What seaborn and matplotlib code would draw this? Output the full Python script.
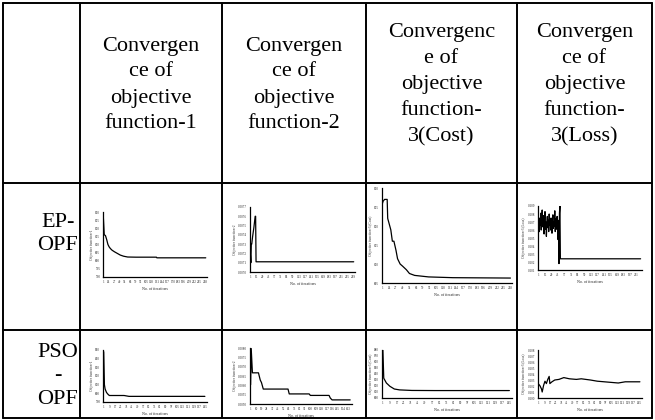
import matplotlib
matplotlib.use("Agg")
import matplotlib.pyplot as plt
import pandas as pd
import seaborn as sns

W, H = 655, 420

HEADERS = [
    "Convergen\nce of\nobjective\nfunction-1",
    "Convergen\nce of\nobjective\nfunction-2",
    "Convergenc\ne of\nobjective\nfunction-\n3(Cost)",
    "Convergen\nce of\nobjective\nfunction-\n3(Loss)",
]
ROW_LABELS = ["EP-\nOPF", "PSO\n-\nOPF"]
YLABELS = [
    "Objective function-1",
    "Objective function-2",
    "Objective function-3 (Cost)",
    "Objective function-3 (Loss)",
]
XLABEL = "No. of iterations"

# EP-OPF convergence curves (iteration, value)
EP1_ITER = [1, 2, 3, 6, 9, 12, 15, 18, 22, 28, 35, 42, 50, 60, 80, 130, 131, 250]
EP1_VAL = [826, 821, 816, 815.5, 813, 810, 808.5, 807.5, 806.5, 805.5, 804.5,
           803.5, 802.8, 802.3, 802.2, 802.2, 801.8, 801.8]

EP2_ITER = [1, 2, 3, 4, 6, 9, 12, 13, 14, 240]
EP2_VAL = [0.00718, 0.00710, 0.00730, 0.00730, 0.00738, 0.00748, 0.00760,
           0.00760, 0.00711, 0.00711]

EP3_ITER = [1, 2, 5, 10, 11, 13, 17, 20, 23, 27, 30, 35, 40, 47, 53, 63, 90,
            137, 248]
EP3_VAL = [826, 826.5, 827, 827, 822, 821, 819, 816, 816, 813.6, 811.4, 810,
           809.4, 808.5, 807.5, 807, 806.6, 806.4, 806.3]

EP4_VAL_NOISY = [0.1062, 0.1070, 0.1058, 0.1075, 0.1066, 0.1081, 0.1060, 0.1072,
                 0.1085, 0.1064, 0.1069, 0.1078, 0.1055, 0.1074, 0.1083, 0.1061,
                 0.1070, 0.1052, 0.1068, 0.1077, 0.1063, 0.1072, 0.1058, 0.1080,
                 0.1066, 0.1071, 0.1060, 0.1075, 0.1067, 0.1056, 0.1073, 0.1079,
                 0.1062, 0.1070, 0.1065, 0.1084, 0.1058, 0.1069, 0.1074, 0.1061,
                 0.1077, 0.1066, 0.1048, 0.1072, 0.1018, 0.1081, 0.1090, 0.1024]
EP4_ITER = list(range(1, len(EP4_VAL_NOISY) + 1)) + [220]
EP4_VAL = EP4_VAL_NOISY + [0.1024]

# PSO-OPF convergence curves
PSO1_ITER = [1, 2, 3, 5, 7, 9, 12, 30, 37, 145]
PSO1_VAL = [848, 810, 805, 801, 799, 797.5, 797.5, 797.5, 796.5, 796.5]

PSO2_ITER = [1, 2, 4, 14, 17, 19, 22, 63, 65, 98, 100, 131, 133, 136, 166]
PSO2_VAL = [0.00603, 0.00797, 0.00667, 0.00667, 0.00628, 0.00615, 0.00580,
            0.00580, 0.00554, 0.00554, 0.00546, 0.00546, 0.00532, 0.00522, 0.00522]

PSO3_ITER = [1, 2, 5, 9, 14, 20, 34, 60, 145]
PSO3_VAL = [880, 833, 825, 819.5, 815, 813.5, 812.6, 812.4, 812.4]

PSO4_ITER = [1, 3, 5, 6, 8, 10, 12, 14, 16, 17, 20, 24, 30, 37, 45, 55, 62, 75,
             85, 95, 105, 115, 125, 135, 146]
PSO4_VAL = [0.1023, 0.1020, 0.1015, 0.1010, 0.1021, 0.1028, 0.1024, 0.1031,
            0.1036, 0.1024, 0.1027, 0.1030, 0.1031, 0.1034, 0.1032, 0.1031,
            0.1032, 0.1030, 0.1028, 0.1027, 0.1026, 0.1025, 0.1027, 0.1027,
            0.1027]

# tick positions / labels
EP1_XTICKS = list(range(1, 249, 13))
EP2_XTICKS = list(range(1, 240, 14))
EP3_XTICKS = list(range(1, 249, 13))
EP4_XTICKS = list(range(1, 212, 14))
PSO_XTICKS = list(range(1, 146, 8))
PSO2_XTICKS = list(range(1, 164, 9))

EP1_YTICKS = [790, 795, 800, 805, 810, 815, 820, 825, 830]
EP2_YTICKS = [0.0070, 0.0071, 0.0072, 0.0073, 0.0074, 0.0075, 0.0076, 0.0077]
EP3_YTICKS = [805, 810, 815, 820, 825, 830]
EP4_YTICKS = [0.101, 0.102, 0.103, 0.104, 0.105, 0.106, 0.107, 0.108, 0.109]
PSO1_YTICKS = [790, 800, 810, 820, 830, 840, 850]
PSO2_YTICKS = [0.0050, 0.0055, 0.0060, 0.0065, 0.0070, 0.0075, 0.0080]
PSO3_YTICKS = [800, 810, 820, 830, 840, 850, 860, 870, 880]
PSO4_YTICKS = [0.100, 0.101, 0.102, 0.103, 0.104, 0.105, 0.106, 0.107, 0.108]

COL_X = [3, 80, 222, 366, 517, 652]
ROW_Y = [3, 183, 330, 418]


def px_axes(fig, left, top, right, bottom):
    return fig.add_axes([left / W, 1 - bottom / H, (right - left) / W, (bottom - top) / H])


def mini_chart(fig, box, iters, vals, ylabel, xticks, yticks, yfmt):
    ax = px_axes(fig, *box)
    df = pd.DataFrame({"iter": iters, "val": vals})
    sns.lineplot(data=df, x="iter", y="val", ax=ax, color="black", linewidth=0.9)
    ax.set_xlim(0, max(xticks[-1], iters[-1]) + 3)
    ax.set_ylim(yticks[0], yticks[-1])
    ax.set_xticks(xticks)
    ax.set_xticklabels([str(t) for t in xticks])
    ax.set_yticks(yticks)
    ax.set_yticklabels([yfmt.format(t) for t in yticks])
    ax.tick_params(axis="both", labelsize=2.3, length=1.2, width=0.4, pad=0.8, color="black")
    for side in ["top", "right"]:
        ax.spines[side].set_visible(False)
    for side in ["left", "bottom"]:
        ax.spines[side].set_color("black")
        ax.spines[side].set_linewidth(0.9)
    ax.set_xlabel(XLABEL, fontsize=2.9, labelpad=2.5)
    ax.set_ylabel(ylabel, fontsize=2.6, labelpad=1)
    ax.set_facecolor("white")
    return ax


def main() -> None:
    sns.set_theme(style="white")
    plt.rcParams["font.family"] = ["Liberation Serif", "DejaVu Serif"]

    fig = plt.figure(figsize=(W / 100, H / 100), dpi=100)
    bg = fig.add_axes([0, 0, 1, 1])
    bg.set_xlim(0, W)
    bg.set_ylim(H, 0)
    bg.axis("off")

    for x in COL_X:
        bg.plot([x, x], [ROW_Y[0], ROW_Y[-1]], color="black", linewidth=1.4)
    for y in ROW_Y:
        bg.plot([COL_X[0], COL_X[-1]], [y, y], color="black", linewidth=1.4)

    for i, text in enumerate(HEADERS):
        cx = (COL_X[i + 1] + COL_X[i + 2]) / 2
        bg.text(cx, 85, text, ha="center", va="center", fontsize=16,
                linespacing=1.5, color="black")

    bg.text(58, 234, ROW_LABELS[0], ha="center", va="center", fontsize=16,
            linespacing=1.35, color="black")
    bg.text(58, 376, ROW_LABELS[1], ha="center", va="center", fontsize=16,
            linespacing=1.35, color="black")

    mini_chart(fig, (103, 212, 207, 277), EP1_ITER, EP1_VAL, YLABELS[0],
               EP1_XTICKS, EP1_YTICKS, "{:.0f}")
    mini_chart(fig, (250, 207, 355, 272), EP2_ITER, EP2_VAL, YLABELS[1],
               EP2_XTICKS, EP2_YTICKS, "{:.4f}")
    mini_chart(fig, (382, 188, 512, 283), EP3_ITER, EP3_VAL, YLABELS[2],
               EP3_XTICKS, EP3_YTICKS, "{:.0f}")
    mini_chart(fig, (538, 206, 642, 270), EP4_ITER, EP4_VAL, YLABELS[3],
               EP4_XTICKS, EP4_YTICKS, "{:.3f}")

    mini_chart(fig, (103, 350, 207, 402), PSO1_ITER, PSO1_VAL, YLABELS[0],
               PSO_XTICKS, PSO1_YTICKS, "{:.0f}")
    mini_chart(fig, (250, 348, 352, 404), PSO2_ITER, PSO2_VAL, YLABELS[1],
               PSO2_XTICKS, PSO2_YTICKS, "{:.4f}")
    mini_chart(fig, (382, 350, 512, 398), PSO3_ITER, PSO3_VAL, YLABELS[2],
               PSO_XTICKS, PSO3_YTICKS, "{:.0f}")
    mini_chart(fig, (538, 350, 642, 398), PSO4_ITER, PSO4_VAL, YLABELS[3],
               PSO_XTICKS, PSO4_YTICKS, "{:.3f}")

    fig.savefig("out.png", dpi=100, facecolor="white")
    plt.close(fig)


if __name__ == "__main__":
    main()
